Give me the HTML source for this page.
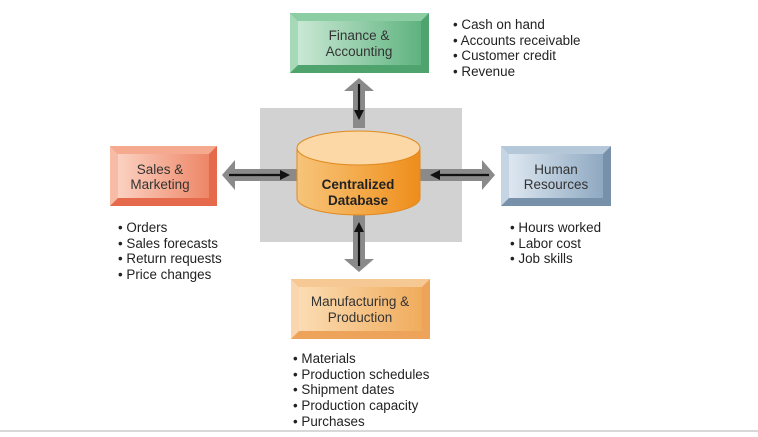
<!DOCTYPE html>
<html><head><style>
html,body{margin:0;padding:0;background:#fff;}
svg{display:block;font-family:"Liberation Sans",Arial,sans-serif;}
</style></head><body>
<svg width="758" height="437" viewBox="0 0 758 437" xmlns="http://www.w3.org/2000/svg">
<defs>
<linearGradient id="gg" x1="0" y1="0" x2="1" y2="0"><stop offset="0" stop-color="#c9e8d4"/><stop offset="1" stop-color="#5fb37f"/></linearGradient>
<linearGradient id="rg" x1="0" y1="0" x2="1" y2="0"><stop offset="0" stop-color="#fbd1c1"/><stop offset="1" stop-color="#ee8667"/></linearGradient>
<linearGradient id="bg" x1="0" y1="0" x2="1" y2="0"><stop offset="0" stop-color="#dde7f0"/><stop offset="1" stop-color="#8fa9c2"/></linearGradient>
<linearGradient id="og" x1="0" y1="0" x2="1" y2="0"><stop offset="0" stop-color="#fbdcb3"/><stop offset="1" stop-color="#f0ac5c"/></linearGradient>
<linearGradient id="cyl" x1="0" y1="0" x2="1" y2="0"><stop offset="0" stop-color="#f7c47a"/><stop offset="0.6" stop-color="#f3a541"/><stop offset="1" stop-color="#ee8d1c"/></linearGradient>
</defs>
<rect x="0" y="430" width="758" height="2" fill="#d8d8d8"/>
<rect x="260" y="108" width="202" height="134" fill="#d2d2d2"/>
<g>
<rect x="290" y="13" width="139" height="60" fill="#4fa46e"/>
<polygon points="290,13 429,13 421,21 298,21" fill="#8ccda4"/>
<polygon points="290,13 298,21 298,65 290,73" fill="#a6d9b8"/>
<rect x="298" y="21" width="123" height="44" fill="url(#gg)"/>
<text x="359" y="40" font-size="13.5" text-anchor="middle" fill="#333">Finance &amp;</text>
<text x="359" y="56" font-size="13.5" text-anchor="middle" fill="#333">Accounting</text>
</g>
<g>
<rect x="110" y="146" width="107" height="60" fill="#e46a4b"/>
<polygon points="110,146 217,146 209,154 118,154" fill="#f5a98f"/>
<polygon points="110,146 118,154 118,198 110,206" fill="#f8bca6"/>
<rect x="118" y="154" width="91" height="44" fill="url(#rg)"/>
<text x="160" y="174" font-size="13.5" text-anchor="middle" fill="#333">Sales &amp;</text>
<text x="160" y="189" font-size="13.5" text-anchor="middle" fill="#333">Marketing</text>
</g>
<g>
<rect x="501" y="146" width="110" height="60" fill="#7791ab"/>
<polygon points="501,146 611,146 603,154 509,154" fill="#b5c8da"/>
<polygon points="501,146 509,154 509,198 501,206" fill="#c6d5e3"/>
<rect x="509" y="154" width="94" height="44" fill="url(#bg)"/>
<text x="556" y="174" font-size="13.5" text-anchor="middle" fill="#333">Human</text>
<text x="556" y="189" font-size="13.5" text-anchor="middle" fill="#333">Resources</text>
</g>
<g>
<rect x="291" y="279" width="139" height="60" fill="#eea35a"/>
<polygon points="291,279 430,279 422,287 299,287" fill="#f6c894"/>
<polygon points="291,279 299,287 299,331 291,339" fill="#f9d6ae"/>
<rect x="299" y="287" width="123" height="44" fill="url(#og)"/>
<text x="360" y="306" font-size="13.5" text-anchor="middle" fill="#333">Manufacturing &amp;</text>
<text x="360" y="322" font-size="13.5" text-anchor="middle" fill="#333">Production</text>
</g>
<g fill="#8a8a8a">
<polygon points="353,128 353,91 344,91 359,78 374,91 365,91 365,128"/>
<polygon points="353,215 353,259 344,259 359,272 374,259 365,259 365,215"/>
<polygon points="297,169 235,169 235,160 222,175 235,190 235,181 297,181"/>
<polygon points="420,169 482,169 482,160 495,175 482,190 482,181 420,181"/>
</g>
<g stroke="#111" stroke-width="2.2" fill="#111">
<line x1="359" y1="84" x2="359" y2="112"/><polygon points="354,110 364,110 359,120" stroke="none"/>
<line x1="359" y1="266" x2="359" y2="230"/><polygon points="354,232 364,232 359,222" stroke="none"/>
<line x1="229" y1="175" x2="283" y2="175"/><polygon points="280,170 280,180 290,175" stroke="none"/>
<line x1="489" y1="175" x2="437" y2="175"/><polygon points="440,170 440,180 430,175" stroke="none"/>
</g>
<path d="M297,148 L297,198 A61.5,17 0 0 0 420,198 L420,148 Z" fill="url(#cyl)" stroke="#e0891e" stroke-width="1"/>
<ellipse cx="358.5" cy="148" rx="61.5" ry="17" fill="#fbd8a5" stroke="#e0891e" stroke-width="1"/>
<text x="358" y="189" font-size="13.5" font-weight="bold" text-anchor="middle" fill="#222">Centralized</text>
<text x="358" y="205" font-size="13.5" font-weight="bold" text-anchor="middle" fill="#222">Database</text>
<g font-size="13.4" fill="#222">
<text x="453" y="29">• Cash on hand</text>
<text x="453" y="45">• Accounts receivable</text>
<text x="453" y="60">• Customer credit</text>
<text x="453" y="76">• Revenue</text>
<text x="118" y="232">• Orders</text>
<text x="118" y="248">• Sales forecasts</text>
<text x="118" y="263">• Return requests</text>
<text x="118" y="279">• Price changes</text>
<text x="510" y="232">• Hours worked</text>
<text x="510" y="248">• Labor cost</text>
<text x="510" y="263">• Job skills</text>
<text x="293" y="363">• Materials</text>
<text x="293" y="379">• Production schedules</text>
<text x="293" y="394">• Shipment dates</text>
<text x="293" y="410">• Production capacity</text>
<text x="293" y="426">• Purchases</text>
</g>
</svg>
</body></html>
